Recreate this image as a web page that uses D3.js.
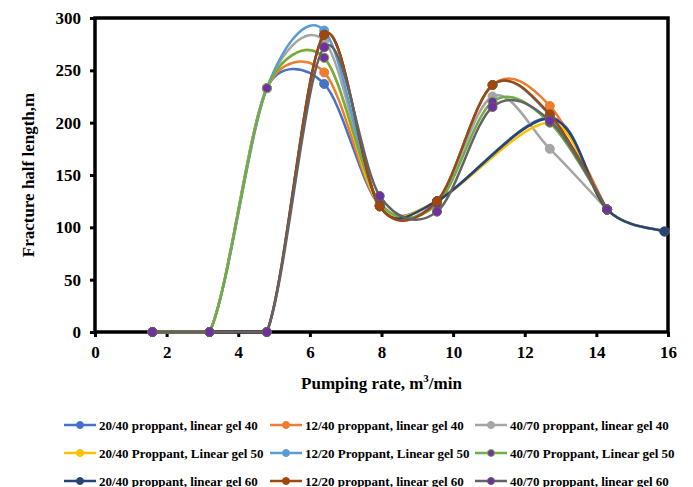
<!DOCTYPE html>
<html>
<head>
<meta charset="utf-8">
<script src="https://d3js.org/d3.v7.min.js"></script>
<style>
  body { margin: 0; background: #fff; }
  text { font-family: "Liberation Serif", "Times New Roman", serif; font-weight: bold; }
</style>
</head>
<body>
<svg id="viz"></svg>
<script>
// pumping rates (m3/min)
var rates = [1.6, 3.2, 4.8, 6.4, 7.95, 9.55, 11.1, 12.7, 14.3, 15.9];

// fracture half length per series (null = no point)
var g40_2040 = [0, 0, 233, 237, 121, 125, null, 205, 117, 96];
var g40_1240 = [0, 0, 233, 248, 121, 125, 236, 216, 117, null];
var g40_4070 = [0, 0, 233, 278, 121, 125, 225, 175, 117, null];
var g50_2040 = [0, 0, 233, 262, 121, 125, null, 200, 117, 96];
var g50_1220 = [0, 0, 233, 288, 121, 125, 236, 207, 117, null];
var g50_4070 = [0, 0, 233, 262, 124, 122, 220, 200, 117, null];
var g60_2040 = [0, 0, 0, 284, 120, 125, null, 204, 117, 96];
var g60_1220 = [0, 0, 0, 284, 120, 125, 236, 208, 117, null];
var g60_4070 = [0, 0, 0, 272, 130, 115, 215, 202, 117, null];

var seriesNames = [
  "20/40 proppant, linear gel 40", "12/40 proppant, linear gel 40", "40/70 proppant, linear gel 40",
  "20/40 Proppant, Linear gel 50", "12/20 Proppant, Linear gel 50", "40/70 Proppant, Linear gel 50",
  "20/40 proppant, linear gel 60", "12/20 proppant, linear gel 60", "40/70 proppant, linear gel 60"
];
var seriesValues = [g40_2040, g40_1240, g40_4070, g50_2040, g50_1220, g50_4070, g60_2040, g60_1220, g60_4070];
var lineColors = ["#4472C4", "#ED7D31", "#A5A5A5", "#FFC000", "#5B9BD5", "#70AD47", "#264478", "#9E480E", "#636363"];
var markColors = ["#4472C4", "#ED7D31", "#A5A5A5", "#FFC000", "#5B9BD5", "#7030A0", "#264478", "#9E480E", "#7030A0"];

var xTicks = d3.range(0, 17, 2);
var yTicks = d3.range(0, 301, 50);

var width = 693, height = 487;
var mLeft = 95, mRight = 668, mTop = 18, mBottom = 332;

var svg = d3.select("#viz").attr("width", width).attr("height", height);

var x = d3.scaleLinear().domain([0, 16]).range([mLeft, mRight]);
var y = d3.scaleLinear().domain([0, 300]).range([mBottom, mTop]);

// axes
var xAxis = svg.append("g")
  .attr("transform", "translate(0," + mBottom + ")")
  .call(d3.axisBottom(x).tickValues(xTicks).tickSize(5).tickPadding(9));
var yAxis = svg.append("g")
  .attr("transform", "translate(" + mLeft + ",0)")
  .call(d3.axisLeft(y).tickValues(yTicks).tickSize(5).tickPadding(9));
[xAxis, yAxis].forEach(function (a) {
  a.select(".domain").remove();
  a.selectAll("line").attr("stroke", "#000").attr("stroke-width", 3);
  a.selectAll("text").attr("fill", "#000").style("font-size", "17px")
    .style("font-family", "'Liberation Serif', serif").style("font-weight", "bold");
});

// plot frame
svg.append("rect")
  .attr("x", mLeft).attr("y", mTop)
  .attr("width", mRight - mLeft).attr("height", mBottom - mTop)
  .attr("fill", "none").attr("stroke", "#000").attr("stroke-width", 3.5);

// excel-like smoothed line: bezier with 1/6 tangents, capped at half the segment,
// flat runs drawn straight
function smoothPath(pts) {
  var p = pts.map(function (d) { return [x(d[0]), y(d[1])]; });
  var path = d3.path();
  path.moveTo(p[0][0], p[0][1]);
  for (var i = 0; i < p.length - 1; i++) {
    var p0 = p[Math.max(i - 1, 0)], p1 = p[i], p2 = p[i + 1], p3 = p[Math.min(i + 2, p.length - 1)];
    if (pts[i][1] === pts[i + 1][1]) { path.lineTo(p2[0], p2[1]); continue; }
    var half = Math.hypot(p2[0] - p1[0], p2[1] - p1[1]) / 2;
    var v1 = [(p2[0] - p0[0]) / 6, (p2[1] - p0[1]) / 6];
    var v2 = [(p3[0] - p1[0]) / 6, (p3[1] - p1[1]) / 6];
    var l1 = Math.hypot(v1[0], v1[1]), l2 = Math.hypot(v2[0], v2[1]);
    if (l1 > half) { v1 = [v1[0] * half / l1, v1[1] * half / l1]; }
    if (l2 > half) { v2 = [v2[0] * half / l2, v2[1] * half / l2]; }
    path.bezierCurveTo(p1[0] + v1[0], p1[1] + v1[1], p2[0] - v2[0], p2[1] - v2[1], p2[0], p2[1]);
  }
  return path.toString();
}

var plot = svg.append("g");
seriesValues.forEach(function (vals, i) {
  var pts = [];
  vals.forEach(function (v, j) { if (v !== null) pts.push([rates[j], v]); });
  var g = plot.append("g");
  g.append("path")
    .attr("d", smoothPath(pts))
    .attr("fill", "none")
    .attr("stroke", lineColors[i])
    .attr("stroke-width", 2.5);
  g.selectAll("circle").data(pts).enter().append("circle")
    .attr("cx", function (d) { return x(d[0]); })
    .attr("cy", function (d) { return y(d[1]); })
    .attr("r", 4.5)
    .attr("fill", markColors[i])
    .attr("stroke", lineColors[i])
    .attr("stroke-width", 1);
});

// axis titles
svg.append("text")
  .attr("transform", "translate(34," + ((mTop + mBottom) / 2) + ") rotate(-90)")
  .attr("text-anchor", "middle")
  .style("font-size", "17px")
  .text("Fracture half length,m");

var xt = svg.append("text")
  .attr("x", (mLeft + mRight) / 2).attr("y", 389)
  .attr("text-anchor", "middle")
  .style("font-size", "17px");
xt.append("tspan").text("Pumping rate, m");
xt.append("tspan").attr("dy", -7).style("font-size", "11px").text("3");
xt.append("tspan").attr("dy", 7).text("/min");

// legend
var legX = [64, 270, 475], legY = [425, 453, 481];
seriesNames.forEach(function (name, i) {
  var lg = svg.append("g")
    .attr("transform", "translate(" + legX[i % 3] + "," + legY[Math.floor(i / 3)] + ")");
  lg.append("line").attr("x1", 0).attr("x2", 32).attr("y1", 0).attr("y2", 0)
    .attr("stroke", lineColors[i]).attr("stroke-width", 2.5);
  lg.append("circle").attr("cx", 16).attr("cy", 0).attr("r", 3.5)
    .attr("fill", markColors[i]).attr("stroke", lineColors[i]).attr("stroke-width", 1);
  lg.append("text").attr("x", 35).attr("y", 4.5)
    .style("font-size", "13px")
    .text(name);
});
</script>
</body>
</html>
